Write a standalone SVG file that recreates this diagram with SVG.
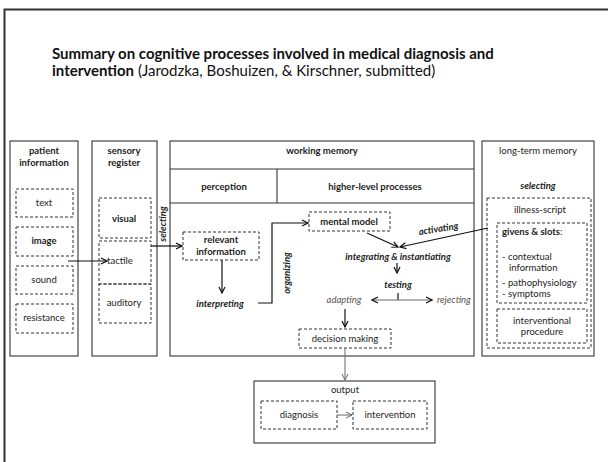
<svg xmlns="http://www.w3.org/2000/svg" width="608" height="462" viewBox="0 0 608 462">
<defs>
<style>
.box{fill:none;stroke:#333;stroke-width:1.1}
.dash{fill:none;stroke:#333;stroke-width:1;stroke-dasharray:3 2}
.t{font-family:Lato,"Open Sans",sans-serif;font-size:9.5px;fill:#222;text-anchor:middle}
.s{text-anchor:start}
.b{font-weight:bold}
.bi{font-weight:bold;font-style:italic}
.gi{font-style:italic;fill:#555}
.ln{stroke:#111;stroke-width:1.2;fill:none}
.gl{stroke:#666;stroke-width:1;fill:none}
.title{font-family:Lato,"Open Sans",sans-serif;font-size:15px;fill:#111}
</style>
<marker id="ah" viewBox="0 0 8 8" refX="7" refY="4" markerWidth="8" markerHeight="8" markerUnits="userSpaceOnUse" orient="auto-start-reverse">
<path d="M1,1 L7,4 L1,7" fill="none" stroke="#111" stroke-width="1.2"/>
</marker>
<marker id="ahg" viewBox="0 0 8 8" refX="7" refY="4" markerWidth="8" markerHeight="8" markerUnits="userSpaceOnUse" orient="auto">
<path d="M1,1 L7,4 L1,7" fill="none" stroke="#666" stroke-width="1"/>
</marker>
</defs>
<rect width="608" height="462" fill="#fff"/>
<path d="M4.5,462 V9.5 H608" fill="none" stroke="#333" stroke-width="2"/>
<g id="title">
<text class="title" x="52" y="59" font-weight="bold">Summary on cognitive processes involved in medical diagnosis and</text>
<text class="title" x="52" y="76"><tspan font-weight="bold">intervention</tspan> (Jarodzka, Boshuizen, &amp; Kirschner, submitted)</text>
</g>
<g id="patient-information">
<rect class="box" x="10" y="141" width="68" height="215"/>
<text class="t b" x="44" y="154">patient</text>
<text class="t b" x="44" y="166">information</text>
<rect class="dash" x="16" y="189" width="57" height="28"/>
<text class="t" x="44" y="206">text</text>
<rect class="dash" x="16" y="227" width="57" height="29"/>
<text class="t b" x="44" y="244">image</text>
<rect class="dash" x="16" y="266" width="57" height="28"/>
<text class="t" x="44" y="283">sound</text>
<rect class="dash" x="16" y="304" width="57" height="29"/>
<text class="t" x="44" y="321">resistance</text>
</g>
<g id="sensory-register">
<rect class="box" x="92" y="141" width="65" height="215"/>
<text class="t b" x="124" y="154">sensory</text>
<text class="t b" x="124" y="166">register</text>
<rect class="dash" x="99" y="198" width="52" height="40"/>
<text class="t b" x="124" y="222">visual</text>
<rect class="dash" x="99" y="241" width="52" height="43"/>
<text class="t" x="120" y="264">tactile</text>
<rect class="dash" x="99" y="284" width="52" height="39"/>
<text class="t" x="124" y="306">auditory</text>
</g>
<g id="working-memory">
<rect class="box" x="170" y="141" width="304" height="215"/>
<line class="box" x1="170" y1="169" x2="474" y2="169"/>
<line class="box" x1="170" y1="203" x2="474" y2="203"/>
<line class="box" x1="277" y1="169" x2="277" y2="203"/>
<text class="t b" x="322" y="154">working memory</text>
<text class="t b" x="224" y="190">perception</text>
<text class="t b" x="375" y="190">higher-level processes</text>
</g>
<g id="relevant-information">
<rect class="dash" x="183" y="232" width="76" height="28"/>
<text class="t b" x="221" y="243">relevant</text>
<text class="t b" x="221" y="255">information</text>
</g>
<g id="interpreting"><text class="t bi" x="220" y="307">interpreting</text></g>
<g id="mental-model">
<rect class="dash" x="309" y="212" width="81" height="19"/>
<text class="t b" x="349" y="225">mental model</text>
</g>
<g id="integrating"><text class="t bi" x="398" y="260">integrating &amp; instantiating</text></g>
<g id="testing"><text class="t bi" x="398" y="288">testing</text></g>
<g id="adapting"><text class="t gi" x="344" y="303">adapting</text></g>
<g id="rejecting"><text class="t gi s" x="437" y="303">rejecting</text></g>
<g id="decision-making">
<rect class="dash" x="299" y="329" width="92" height="19"/>
<text class="t" x="345" y="342">decision making</text>
</g>
<g id="long-term-memory">
<rect class="box" x="482" y="141" width="112" height="215"/>
<text class="t" x="538" y="154">long-term memory</text>
<text class="t bi" x="538" y="189">selecting</text>
<rect class="dash" x="487" y="198" width="104" height="150"/>
<text class="t" x="540" y="213">illness-script</text>
<rect class="dash" x="497" y="223" width="90" height="80"/>
<text class="t s" x="502" y="235"><tspan font-weight="bold">givens &amp; slots</tspan>:</text>
<text class="t s" x="502" y="260">- contextual</text>
<text class="t s" x="509" y="271">information</text>
<text class="t s" x="502" y="286">- pathophysiology</text>
<text class="t s" x="502" y="297">- symptoms</text>
<rect class="dash" x="497" y="309" width="90" height="34"/>
<text class="t" x="542" y="324">interventional</text>
<text class="t" x="542" y="335">procedure</text>
</g>
<g id="output">
<rect class="box" x="254" y="381" width="181" height="62"/>
<text class="t" x="345" y="393">output</text>
<rect class="dash" x="261" y="401" width="76" height="28"/>
<text class="t" x="299" y="418">diagnosis</text>
<rect class="dash" x="353" y="401" width="74" height="28"/>
<text class="t" x="390" y="418">intervention</text>
</g>
<g id="connectors">
<path class="ln" d="M68,261 H107" marker-end="url(#ah)"/>
<path class="ln" d="M151,246 H182" marker-end="url(#ah)"/>
<text class="t bi" transform="translate(166,224) rotate(-90)">selecting</text>
<path class="ln" d="M222,260 V293" marker-end="url(#ah)"/>
<path class="ln" d="M258,303 H272 V223 H308" marker-end="url(#ah)"/>
<text class="t bi" transform="translate(290,273) rotate(-90)">organizing</text>
<path class="ln" d="M367,233 L398,247" marker-end="url(#ah)"/>
<path class="ln" d="M488,228 L400,247" marker-end="url(#ah)"/>
<text class="t bi" transform="translate(439,232) rotate(-9)">activating</text>
<path class="ln" d="M397,263 V273" marker-end="url(#ah)"/>
<path class="ln" d="M398,293 V300"/>
<path class="gl" d="M372,300 H432" marker-start="url(#ah)" marker-end="url(#ah)"/>
<path class="ln" d="M345,309 V327" marker-end="url(#ah)"/>
<path class="gl" d="M345,348 V380" marker-end="url(#ahg)"/>
<path class="gl" d="M337,415 H352" marker-end="url(#ahg)"/>
</g>
</svg>
